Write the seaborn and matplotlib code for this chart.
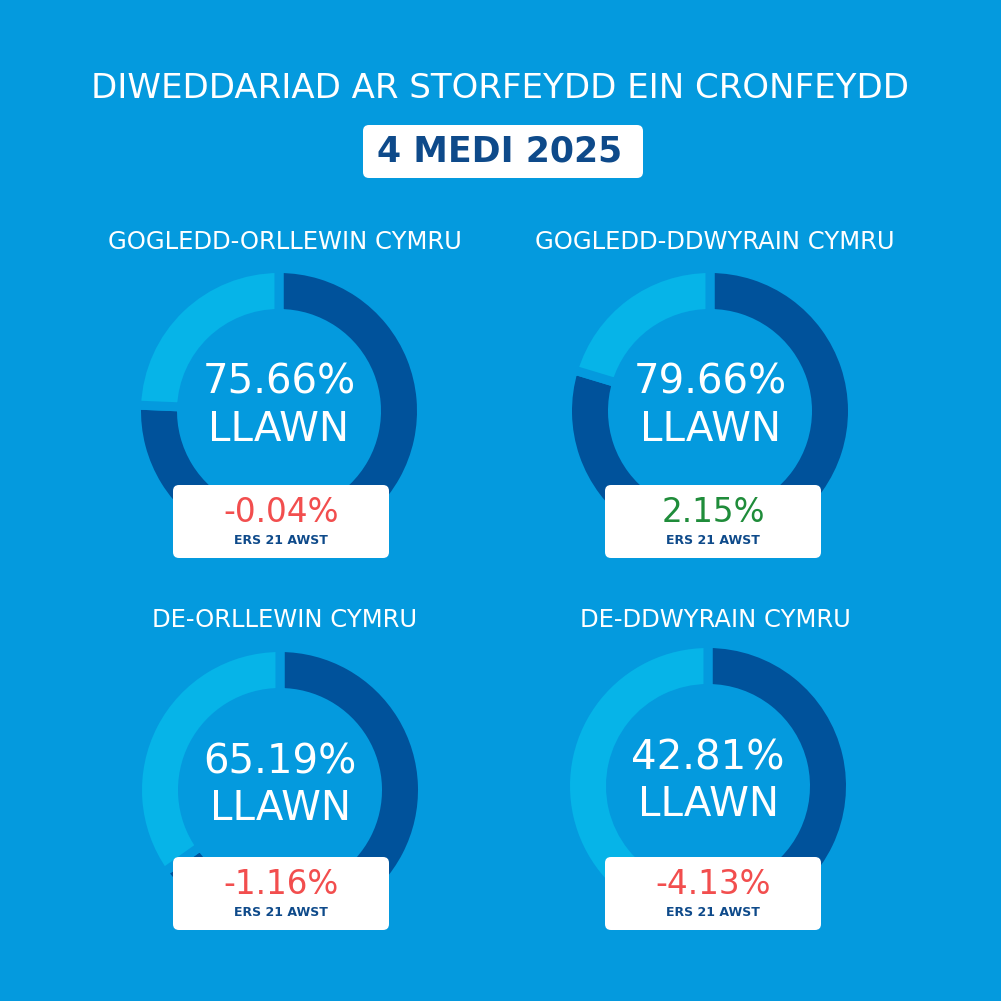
import matplotlib
matplotlib.use("Agg")
import matplotlib.pyplot as plt
from matplotlib.patches import FancyBboxPatch
import seaborn as sns

# ---- data ----
title = "DIWEDDARIAD AR STORFEYDD EIN CRONFEYDD"
date_label = "4 MEDI 2025"
regions = ["GOGLEDD-ORLLEWIN CYMRU", "GOGLEDD-DDWYRAIN CYMRU",
           "DE-ORLLEWIN CYMRU", "DE-DDWYRAIN CYMRU"]
full_pct = [75.66, 79.66, 65.19, 42.81]
change_pct = [-0.04, 2.15, -1.16, -4.13]
full_word = "LLAWN"
since_label = "ERS 21 AWST"

# ---- style ----
sns.set_theme(style="white")
plt.rcParams['font.family'] = ['DejaVu Sans']

BG = "#049ADE"
DARK = "#00529B"
LIGHT = "#06B4E8"
NAVY = "#0E4A8A"
RED = "#F24E4E"
GREEN = "#1F8C3A"
palette = sns.color_palette([DARK, LIGHT])

W = H = 1001
DPI = 100
fig = plt.figure(figsize=(W / DPI, H / DPI), dpi=DPI, facecolor=BG)

# layout (pixels)
centers = [(279, 411), (710, 411), (280, 790), (708, 786)]
radius = 138
ring = 36
gap = 9  # px
title_pos = [(285, 242), (715, 242), (285, 620), (715, 620)]
box_w, box_h = 216, 73
box_x = [173, 605, 173, 605]
box_y = [485, 485, 857, 857]

half = 160
lw_pt = gap * 72 / DPI
for (cx, cy), pct in zip(centers, full_pct):
    ax = fig.add_axes([(cx - half) / W, 1 - (cy + half) / H, 2 * half / W, 2 * half / H])
    ax.set_facecolor("none")
    ax.pie([pct, 100 - pct], colors=palette, startangle=90, counterclock=False,
           radius=radius + gap / 2,
           wedgeprops=dict(width=ring + gap, edgecolor=BG, linewidth=lw_pt))
    ax.set_xlim(-half, half)
    ax.set_ylim(-half, half)
    ax.set_aspect("equal")
    ax.axis("off")

ov = fig.add_axes([0, 0, 1, 1], zorder=10)
ov.set_facecolor("none")
ov.set_xlim(0, W)
ov.set_ylim(H, 0)
ov.axis("off")

ov.text(500, 88, title, ha="center", va="center", color="white",
        fontsize=24.5, fontweight="normal")
ov.add_patch(FancyBboxPatch((363, 125), 280, 53, boxstyle="round,pad=0,rounding_size=6",
                            facecolor="white", edgecolor="none"))
ov.text(500, 152, date_label, ha="center", va="center", color=NAVY,
        fontsize=25, fontweight="bold")

for i in range(4):
    tx, ty = title_pos[i]
    ov.text(tx, ty, regions[i], ha="center", va="center", color="white",
            fontsize=17.5, fontweight="normal")
    cx, cy = centers[i]
    ov.text(cx, cy - 28, f"{full_pct[i]:.2f}%", ha="center", va="center",
            color="white", fontsize=29)
    ov.text(cx, cy + 19, full_word, ha="center", va="center",
            color="white", fontsize=29)
    bx, by = box_x[i], box_y[i]
    ov.add_patch(FancyBboxPatch((bx, by), box_w, box_h,
                                boxstyle="round,pad=0,rounding_size=6",
                                facecolor="white", edgecolor="none"))
    col = GREEN if change_pct[i] > 0 else RED
    ov.text(bx + box_w / 2, by + 28, f"{change_pct[i]:.2f}%", ha="center",
            va="center", color=col, fontsize=23.5)
    ov.text(bx + box_w / 2, by + 56, since_label, ha="center", va="center",
            color=NAVY, fontsize=9, fontweight="bold")

fig.savefig("out.png", dpi=DPI, facecolor=BG)
